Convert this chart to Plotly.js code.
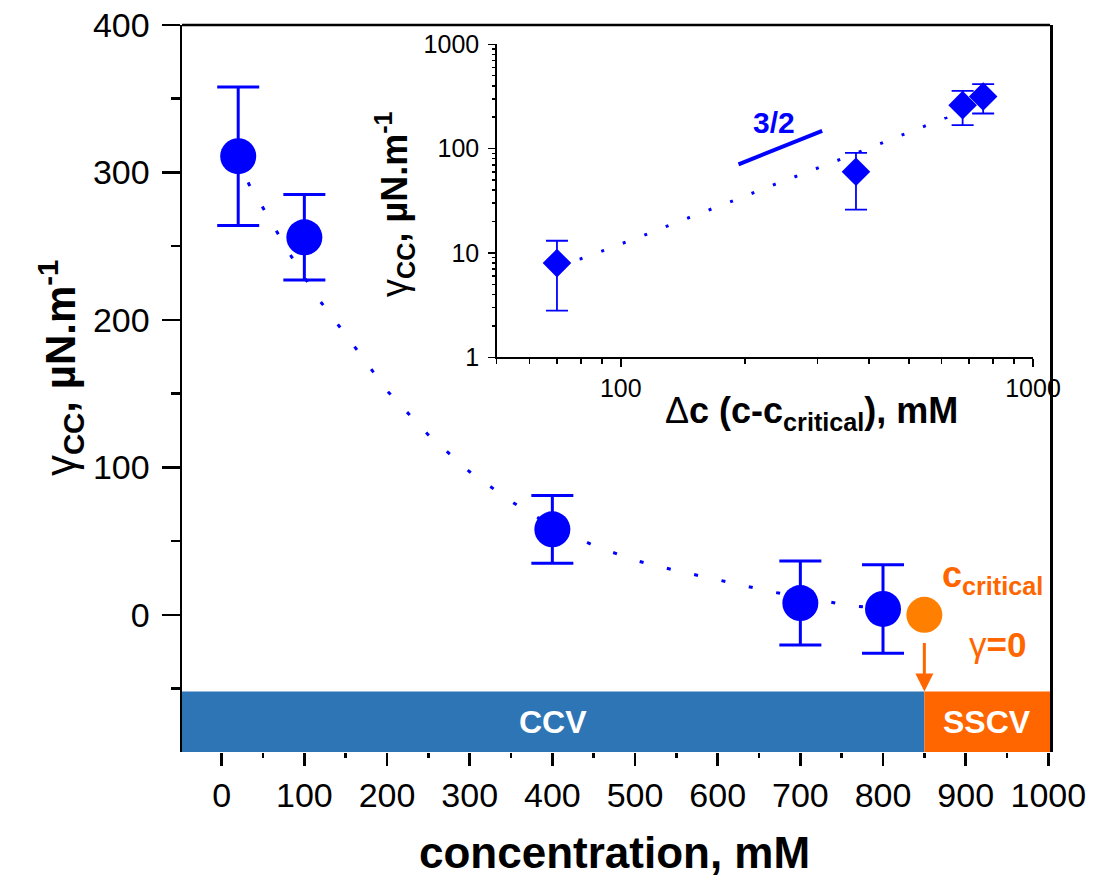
<!DOCTYPE html>
<html><head><meta charset="utf-8">
<script src="https://cdn.plot.ly/plotly-3.0.1.min.js"></script>
<style>html,body{margin:0;padding:0;background:#fff}#chart{width:1094px;height:879px}</style>
</head><body><div id="chart"></div>
<script>
// ---- main panel data ----
const concentration = [20, 100, 400, 700, 800];
const gammaCC = [311, 256, 58, 8, 4];
const gammaErr = [47, 29, 23, 28.5, 30];
const cCritical = [850];
const gammaCritical = [0];
const fitConc = [20, 33, 50, 66, 81, 100, 116, 150, 200, 250, 300, 350, 400, 450, 500, 550, 600, 632, 664, 700, 728, 760, 800, 822, 850];
const fitGamma = [311, 292, 276, 260, 246, 229, 215, 190, 152, 122, 97, 77, 60, 47, 37, 30, 23.7, 19.7, 15.8, 12, 9.5, 6.1, 4.5, 3.4, 1.5];
const xTicks = [0, 100, 200, 300, 400, 500, 600, 700, 800, 900, 1000];
const xMinorTicks = [50, 150, 250, 350, 450, 550, 650, 750, 850, 950];
const yTicks = [0, 100, 200, 300, 400];
const yMinorTicks = [-50, 50, 150, 250, 350];
const phaseNames = ['CCV', 'SSCV'];
const phaseColors = ['#2E75B6', '#FF6600'];
const bandTop = -52;

// ---- inset data ----
const deltaC = [70, 372, 675, 757];
const gammaLog = [8, 60, 261, 316];
const gammaLogErrPlus = [5.1, 31, 97, 99];
const gammaLogErrMinus = [5.2, 34, 93, 99];
const fitDeltaC = [70, 80, 91, 104, 118, 134, 151, 173, 196, 221, 252, 285, 325, 372, 422, 476, 545, 618, 675];
const fitGammaLog = [8, 8.8, 10.6, 12.9, 15.6, 19.1, 23, 28.1, 33.8, 41.2, 49.9, 60, 74.3, 90, 110, 132, 163, 199, 240];
const slopeX = [193, 308];
const slopeY = [70.7, 147.6];
const slopeLabel = '3/2';
const insetXTicks = [100, 1000];
const insetXMinor = [50, 60, 70, 80, 90, 200, 300, 400, 500, 600, 700, 800, 900];
const insetYTicks = [1, 10, 100, 1000];
const insetYMinor = [2,3,4,5,6,7,8,9,20,30,40,50,60,70,80,90,200,300,400,500,600,700,800,900];

const xRange = [-48, 1002];
const yRange = [-93, 400];
const insetXRange = [Math.log10(50), 3];
const insetYRange = [0, 3];

const BLUE = '#0000FF';
const ORANGE_TXT = '#FF6600';
const FONT = 'Liberation Sans, Arial, sans-serif';

const traces = [
  {x: fitConc, y: fitGamma, mode: 'lines', line: {color: BLUE, width: 3, dash: '4px,24px'}, xaxis: 'x', yaxis: 'y', hoverinfo: 'skip'},
  {x: concentration, y: gammaCC, mode: 'markers', marker: {color: BLUE, size: 36},
   error_y: {type: 'data', array: gammaErr, color: BLUE, thickness: 3, width: 21}, xaxis: 'x', yaxis: 'y'},
  {x: cCritical, y: gammaCritical, mode: 'markers', marker: {color: '#FF8000', size: 36}, xaxis: 'x', yaxis: 'y'},
  {x: fitDeltaC, y: fitGammaLog, mode: 'lines', line: {color: BLUE, width: 3, dash: '3px,20px'}, xaxis: 'x2', yaxis: 'y2', hoverinfo: 'skip'},
  {x: deltaC, y: gammaLog, mode: 'markers', marker: {color: BLUE, size: 22, symbol: 'diamond'},
   error_y: {type: 'data', array: gammaLogErrPlus, arrayminus: gammaLogErrMinus, color: BLUE, thickness: 1.8, width: 11}, xaxis: 'x2', yaxis: 'y2'},
  {x: slopeX, y: slopeY, mode: 'lines', line: {color: BLUE, width: 4}, xaxis: 'x2', yaxis: 'y2'}
];

const shapes = [
  {type: 'rect', xref: 'x', yref: 'y', x0: xRange[0], x1: cCritical[0], y0: yRange[0], y1: bandTop, fillcolor: phaseColors[0], line: {width: 0}, layer: 'below'},
  {type: 'rect', xref: 'x', yref: 'y', x0: cCritical[0], x1: xRange[1], y0: yRange[0], y1: bandTop, fillcolor: phaseColors[1], line: {width: 0}, layer: 'below'},
  // top frame line of the main panel
  {type: 'line', xref: 'paper', yref: 'paper', x0: 0, x1: 1, y0: 1, y1: 1, line: {color: '#000', width: 2.5}, layer: 'above'}
];

const bandMid = (bandTop + yRange[0]) / 2;
const gammaTitle = '<span style="font-weight:normal">γ</span><sub>CC</sub>, µN.m<sup>-1</sup>';
const annotations = [
  {xref: 'x', yref: 'y', x: (xRange[0] + cCritical[0]) / 2, y: bandMid, xanchor: 'center', yanchor: 'middle', text: phaseNames[0], showarrow: false, font: {size: 32, color: '#fff', weight: 'bold'}},
  {xref: 'x', yref: 'y', x: (cCritical[0] + xRange[1]) / 2, y: bandMid, xanchor: 'center', yanchor: 'middle', text: phaseNames[1], showarrow: false, font: {size: 32, color: '#fff', weight: 'bold'}},
  {xref: 'x', yref: 'y', x: cCritical[0], y: bandTop, ax: 0, ay: -50, text: '', showarrow: true, arrowhead: 2, arrowsize: 1.2, arrowwidth: 3, arrowcolor: ORANGE_TXT},
  {xref: 'x', yref: 'y', x: 869, y: 26, xanchor: 'left', yanchor: 'middle', text: 'c<sub>critical</sub>', showarrow: false, font: {size: 36, color: ORANGE_TXT, weight: 'bold'}},
  {xref: 'x', yref: 'y', x: 901, y: -20, xanchor: 'left', yanchor: 'middle', text: '<span style="font-weight:normal">γ</span>=0', showarrow: false, font: {size: 35, color: ORANGE_TXT, weight: 'bold'}},
  {xref: 'x2', yref: 'y2', x: Math.log10(235), y: Math.log10(179), xanchor: 'center', yanchor: 'middle', text: slopeLabel, showarrow: false, font: {size: 30, color: BLUE, weight: 'bold'}},
  {xref: 'paper', yref: 'paper', x: -0.1406, y: 0.528, xanchor: 'center', yanchor: 'middle', textangle: -90, text: gammaTitle, showarrow: false, font: {size: 42, color: '#000', weight: 'bold'}},
  {xref: 'paper', yref: 'paper', x: 0.2454, y: 0.7538, xanchor: 'center', yanchor: 'middle', textangle: -90, text: gammaTitle, showarrow: false, font: {size: 36, color: '#000', weight: 'bold'}},
  {xref: 'paper', yref: 'paper', x: 0.7247, y: 0.466, xanchor: 'center', yanchor: 'middle', text: '<span style="font-weight:normal">Δ</span>c (c-c<sub>critical</sub>), mM', showarrow: false, font: {size: 36, color: '#000', weight: 'bold'}},
  {xref: 'paper', yref: 'paper', x: 0.4977, y: -0.1389, xanchor: 'center', yanchor: 'middle', text: 'concentration, mM', showarrow: false, font: {size: 44, color: '#000', weight: 'bold'}}
];

const axBase = {showgrid: false, zeroline: false, linecolor: '#000', tickcolor: '#000', automargin: false};

const layout = {
  width: 1094, height: 879,
  margin: {l: 182, r: 44, t: 25, b: 127},
  paper_bgcolor: '#fff', plot_bgcolor: '#fff',
  showlegend: false,
  font: {family: FONT, color: '#000'},
  xaxis: Object.assign({}, axBase, {domain: [0, 1], anchor: 'y', range: xRange, tickmode: 'array', tickvals: xTicks,
    ticks: 'outside', ticklen: 13, tickwidth: 2.5, showline: false, tickfont: {size: 34},
    minor: {tickmode: 'array', tickvals: xMinorTicks, ticks: 'outside', ticklen: 5, tickwidth: 2.5, tickcolor: '#000', showgrid: false}}),
  yaxis: Object.assign({}, axBase, {domain: [0, 1], anchor: 'x', range: yRange, tickmode: 'array', tickvals: yTicks,
    ticks: 'outside', ticklen: 18, tickwidth: 2.5, showline: true, linewidth: 2.5, mirror: true, tickfont: {size: 34}, ticklabelstandoff: 5,
    minor: {tickmode: 'array', tickvals: yMinorTicks, ticks: 'outside', ticklen: 9, tickwidth: 2.5, tickcolor: '#000', showgrid: false}}),
  xaxis2: Object.assign({}, axBase, {domain: [0.3626, 0.9804], anchor: 'y2', type: 'log', range: insetXRange, tickmode: 'array', tickvals: insetXTicks, ticktext: ['100', '1000'],
    ticks: 'outside', ticklen: 8, tickwidth: 1.5, showline: true, linewidth: 1.5, tickfont: {size: 25},
    minor: {tickmode: 'array', tickvals: insetXMinor, ticks: 'outside', ticklen: 5, tickwidth: 1.5, tickcolor: '#000', showgrid: false}}),
  yaxis2: Object.assign({}, axBase, {domain: [0.5429, 0.9735], anchor: 'x2', type: 'log', range: insetYRange, tickmode: 'array', tickvals: insetYTicks, ticktext: ['1', '10', '100', '1000'],
    ticks: 'outside', ticklen: 7, tickwidth: 1.5, showline: true, linewidth: 1.5, tickfont: {size: 25}, ticklabelstandoff: 4,
    minor: {tickmode: 'array', tickvals: insetYMinor, ticks: 'outside', ticklen: 3.5, tickwidth: 1.5, tickcolor: '#000', showgrid: false}}),
  xaxis3: Object.assign({}, axBase, {overlaying: 'x2', anchor: 'y2', side: 'top', type: 'log', range: insetXRange, tickmode: 'array', tickvals: insetXTicks,
    ticks: 'inside', ticklen: 4, tickwidth: 1.5, showline: true, linewidth: 1.5, showticklabels: false,
    minor: {tickmode: 'array', tickvals: insetXMinor, ticks: 'inside', ticklen: 4, tickwidth: 1.5, tickcolor: '#000', showgrid: false}}),
  yaxis3: Object.assign({}, axBase, {overlaying: 'y2', anchor: 'x2', side: 'right', type: 'log', range: insetYRange, tickmode: 'array', tickvals: insetYTicks,
    ticks: 'inside', ticklen: 8, tickwidth: 1.5, showline: true, linewidth: 1.5, showticklabels: false,
    minor: {tickmode: 'array', tickvals: insetYMinor, ticks: 'inside', ticklen: 3.5, tickwidth: 1.5, tickcolor: '#000', showgrid: false}}),
  shapes: shapes,
  annotations: annotations
};

Plotly.newPlot('chart', traces, layout, {displayModeBar: false, staticPlot: true});
</script>
</body></html>
